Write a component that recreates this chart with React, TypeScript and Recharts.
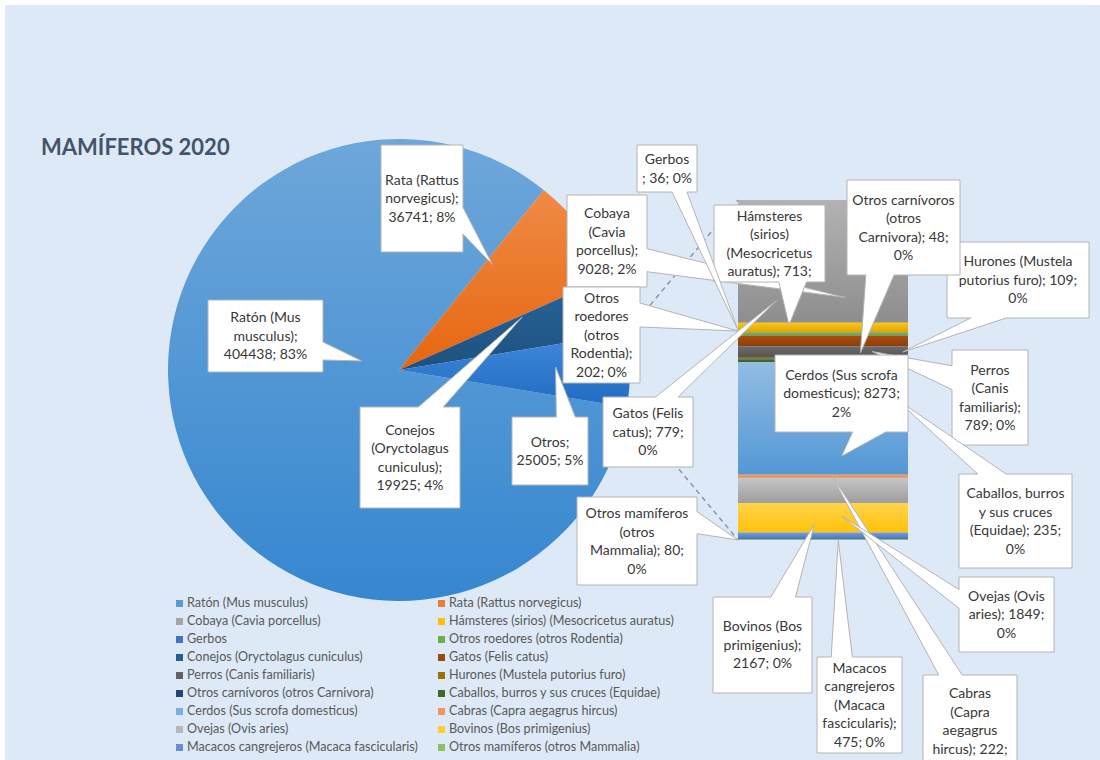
import React from 'react';
import { PieChart, Pie, Cell, BarChart, Bar, XAxis, YAxis, Legend, LabelList } from 'recharts';

// ---- data ----
const title = 'MAMÍFEROS 2020';

const categories = [
  'Ratón (Mus musculus)',
  'Rata (Rattus norvegicus)',
  'Cobaya (Cavia porcellus)',
  'Hámsteres (sirios) (Mesocricetus auratus)',
  'Gerbos ',
  'Otros roedores (otros Rodentia)',
  'Conejos (Oryctolagus cuniculus)',
  'Gatos (Felis catus)',
  'Perros (Canis familiaris)',
  'Hurones (Mustela putorius furo)',
  'Otros carnívoros (otros Carnivora)',
  'Caballos, burros y sus cruces (Equidae)',
  'Cerdos (Sus scrofa domesticus)',
  'Cabras (Capra aegagrus hircus)',
  'Ovejas (Ovis aries)',
  'Bovinos (Bos primigenius)',
  'Macacos cangrejeros (Macaca fascicularis)',
  'Otros mamíferos (otros Mammalia)',
];

const counts = [404438, 36741, 9028, 713, 36, 202, 19925, 779, 789, 109, 48, 235, 8273, 222, 1849, 2167, 475, 80];

const palette = [
  '#5B9BD5', '#ED7D31', '#A5A5A5', '#FFC000', '#4472C4', '#70AD47',
  '#255E91', '#9E480E', '#636363', '#997300', '#264478', '#43682B',
  '#7CAFDD', '#F1975A', '#B7B7B7', '#FFCD33', '#698ED0', '#8CC168',
];

const otherName = 'Otros';
const otherColor = '#2F7ED8';
const splitBelow = 10000; // series below this value go into the bar

// ---- layout ----
const W = 1100;
const H = 760;
const FONT = 'Lato, "Open Sans", sans-serif';
const PIE = { cx: 399, cy: 370, r: 231 };
const BAR = { left: 738, top: 200, width: 170, height: 340 };
const LINE_H = 18.5;
const TEXT_SIZE = 14;

// callout boxes for the pie: tip given as angle offset from the slice middle and radius fraction
const pieCallouts: Record<string, { x: number; y: number; w: number; h: number; da: number; rf: number; words: number[] }> = {
  'Ratón (Mus musculus)': { x: 208, y: 300, w: 115, h: 72, da: -34.7, rf: 0.166, words: [2, 1, 2] },
  'Rata (Rattus norvegicus)': { x: 381, y: 145, w: 82, h: 107, da: 10.9, rf: 0.61, words: [2, 1, 2] },
  'Conejos (Oryctolagus cuniculus)': { x: 360, y: 407, w: 100, h: 101, da: 6.6, rf: 0.58, words: [1, 1, 1, 2] },
  Otros: { x: 512, y: 417, w: 76, h: 68, da: 1.1, rf: 0.678, words: [1, 2] },
};

// callout boxes for the bar: tip given as fraction across the segment and offset from its middle
const barCallouts: Record<string, { x: number; y: number; w: number; h: number; fx: number; dy: number; words: number[] }> = {
  'Cobaya (Cavia porcellus)': { x: 567, y: 195, w: 80, h: 92, fx: 0.63, dy: 36, words: [1, 1, 1, 2] },
  'Hámsteres (sirios) (Mesocricetus auratus)': { x: 714, y: 205, w: 111, h: 77, fx: 0.3, dy: -2.6, words: [1, 1, 1, 2] },
  'Gerbos ': { x: 637, y: 145, w: 60, h: 47, fx: 0, dy: -2.7, words: [1, 3] },
  'Otros roedores (otros Rodentia)': { x: 563, y: 287, w: 77, h: 96, fx: 0, dy: -3.3, words: [1, 1, 1, 1, 2] },
  'Gatos (Felis catus)': { x: 603, y: 397, w: 90, h: 70, fx: 0.23, dy: -41, words: [2, 2, 1] },
  'Perros (Canis familiaris)': { x: 952, y: 350, w: 76, h: 95, fx: 0.79, dy: 0, words: [1, 1, 1, 2] },
  'Hurones (Mustela putorius furo)': { x: 947, y: 242, w: 142, h: 76, fx: 0.97, dy: -5.7, words: [2, 3, 1] },
  'Otros carnívoros (otros Carnivora)': { x: 847, y: 180, w: 113, h: 95, fx: 0.72, dy: -5.8, words: [2, 1, 2, 1] },
  'Caballos, burros y sus cruces (Equidae)': { x: 959, y: 474, w: 113, h: 94, fx: 0.92, dy: 37, words: [2, 3, 2, 1] },
  'Cerdos (Sus scrofa domesticus)': { x: 775, y: 355, w: 133, h: 77, fx: 0.61, dy: 37.5, words: [3, 2, 1] },
  'Cabras (Capra aegagrus hircus)': { x: 923, y: 675, w: 94, h: 92, fx: 0.55, dy: -1.3, words: [1, 1, 1, 2] },
  'Ovejas (Ovis aries)': { x: 959, y: 577, w: 95, h: 75, fx: 0.61, dy: 25.6, words: [2, 2, 1] },
  'Bovinos (Bos primigenius)': { x: 713, y: 597, w: 99, h: 96, fx: 0.45, dy: 6.3, words: [2, 1, 2] },
  'Macacos cangrejeros (Macaca fascicularis)': { x: 817, y: 657, w: 85, h: 96, fx: 0.59, dy: 5, words: [1, 1, 1, 1, 2] },
  'Otros mamíferos (otros Mammalia)': { x: 577, y: 497, w: 120, h: 88, fx: 0, dy: 0.5, words: [2, 1, 2, 1] },
};

// ---- derived rows ----
const total = counts.reduce((s, v) => s + v, 0);
const pct = (v: number) => `${Math.round((v / total) * 100)}%`;

const allRows = categories.map((name, i) => ({ name, value: counts[i], color: palette[i] }));
const barRows = allRows.filter((r) => r.value < splitBelow);
const otherTotal = barRows.reduce((s, r) => s + r.value, 0);
const pieRows = [...allRows.filter((r) => r.value >= splitBelow), { name: otherName, value: otherTotal, color: otherColor }];

const barRecord: Record<string, string | number> = { name: otherName };
barRows.forEach((r, i) => {
  barRecord[`s${i}`] = r.value;
});

// the "Otros" slice is centred on 3 o'clock, the rest runs clockwise from there
const otherHalf = (otherTotal / total) * 180;

// ---- helpers ----
// scale lightness / saturation of a hex colour (Excel-like gradient stops)
const shade = (hex: string, lf: number, sf = 1) => {
  const n = parseInt(hex.slice(1), 16);
  const r = ((n >> 16) & 255) / 255;
  const g = ((n >> 8) & 255) / 255;
  const b = (n & 255) / 255;
  const max = Math.max(r, g, b);
  const min = Math.min(r, g, b);
  const l = (max + min) / 2;
  const d = max - min;
  let h = 0;
  let s = 0;
  if (d > 0) {
    s = d / (1 - Math.abs(2 * l - 1));
    if (max === r) h = ((g - b) / d) % 6;
    else if (max === g) h = (b - r) / d + 2;
    else h = (r - g) / d + 4;
    h *= 60;
    if (h < 0) h += 360;
  }
  return `hsl(${h.toFixed(1)}, ${Math.min(100, s * sf * 100).toFixed(1)}%, ${Math.min(100, l * lf * 100).toFixed(1)}%)`;
};

const Grad = ({ id, color }: { id: string; color: string }) => (
  <linearGradient id={id} x1="0" y1="0" x2="0" y2="1">
    <stop offset="0" stopColor={shade(color, 1.08)} />
    <stop offset="1" stopColor={shade(color, 0.86, 1.05)} />
  </linearGradient>
);

const wrapWords = (s: string, perLine: number[]) => {
  const words = s.split(' ').filter(Boolean);
  const out: string[] = [];
  let k = 0;
  perLine.forEach((n) => {
    out.push(words.slice(k, k + n).join(' '));
    k += n;
  });
  return out;
};

// rectangle with a wedge pointing at (tx, ty), like Excel's data callout
const calloutPath = (x: number, y: number, w: number, h: number, tx: number, ty: number) => {
  const dx = tx - (x + w / 2);
  const dy = ty - (y + h / 2);
  const horiz = Math.abs(dx) * h > Math.abs(dy) * w;
  let pts: number[][];
  if (!horiz && dy < 0) {
    const a = dx < 0 ? x + (w * 2) / 12 : x + (w * 7) / 12;
    const b = dx < 0 ? x + (w * 5) / 12 : x + (w * 10) / 12;
    pts = [[x, y], [a, y], [tx, ty], [b, y], [x + w, y], [x + w, y + h], [x, y + h]];
  } else if (horiz && dx > 0) {
    const a = dy < 0 ? y + (h * 2) / 12 : y + (h * 7) / 12;
    const b = dy < 0 ? y + (h * 5) / 12 : y + (h * 10) / 12;
    pts = [[x, y], [x + w, y], [x + w, a], [tx, ty], [x + w, b], [x + w, y + h], [x, y + h]];
  } else if (!horiz && dy > 0) {
    const a = dx > 0 ? x + (w * 10) / 12 : x + (w * 5) / 12;
    const b = dx > 0 ? x + (w * 7) / 12 : x + (w * 2) / 12;
    pts = [[x, y], [x + w, y], [x + w, y + h], [a, y + h], [tx, ty], [b, y + h], [x, y + h]];
  } else {
    const a = dy > 0 ? y + (h * 10) / 12 : y + (h * 5) / 12;
    const b = dy > 0 ? y + (h * 7) / 12 : y + (h * 2) / 12;
    pts = [[x, y], [x + w, y], [x + w, y + h], [x, y + h], [x, a], [tx, ty], [x, b]];
  }
  return 'M' + pts.map((p) => `${p[0].toFixed(1)},${p[1].toFixed(1)}`).join('L') + 'Z';
};

interface CalloutProps {
  box: { x: number; y: number; w: number; h: number };
  tip: { x: number; y: number };
  lines: string[];
}

const Callout = ({ box, tip, lines }: CalloutProps) => {
  const midX = box.x + box.w / 2;
  const firstY = box.y + box.h / 2 - ((lines.length - 1) * LINE_H) / 2 + TEXT_SIZE * 0.35;
  return (
    <g>
      <path d={calloutPath(box.x, box.y, box.w, box.h, tip.x, tip.y)} fill="#ffffff" stroke="#b4b4b4" strokeWidth={1} />
      <text textAnchor="middle" fontFamily={FONT} fontSize={TEXT_SIZE} fill="#383838">
        {lines.map((ln, i) => (
          <tspan key={i} x={midX} y={firstY + i * LINE_H}>
            {ln}
          </tspan>
        ))}
      </text>
    </g>
  );
};

const RAD = Math.PI / 180;

const renderPieLabel = (p: any) => {
  const row = pieRows[p.index];
  const spec = pieCallouts[row.name];
  if (!spec) return null;
  const a = (p.midAngle + spec.da) * RAD;
  const rr = p.outerRadius * spec.rf;
  const tip = { x: p.cx + rr * Math.cos(a), y: p.cy - rr * Math.sin(a) };
  const lines = wrapWords(`${row.name}; ${row.value}; ${pct(row.value)}`, spec.words);

  let links = null;
  if (row.name === otherName) {
    // dashed connectors from the "Otros" slice to the bar corners
    const hi = Math.max(p.startAngle, p.endAngle) * RAD;
    const lo = Math.min(p.startAngle, p.endAngle) * RAD;
    links = (
      <g stroke="#7f93b0" strokeWidth={1.4} strokeDasharray="5 4">
        <line x1={p.cx + p.outerRadius * Math.cos(hi)} y1={p.cy - p.outerRadius * Math.sin(hi)} x2={BAR.left} y2={BAR.top} />
        <line x1={p.cx + p.outerRadius * Math.cos(lo)} y1={p.cy - p.outerRadius * Math.sin(lo)} x2={BAR.left} y2={BAR.top + BAR.height} />
      </g>
    );
  }
  return (
    <g key={`pl-${p.index}`}>
      {links}
      <Callout box={spec} tip={tip} lines={lines} />
    </g>
  );
};

const makeBarLabel = (row: { name: string; value: number }) => (props: any) => {
  const vb = props.viewBox || props;
  const spec = barCallouts[row.name];
  if (!spec || vb == null) return null;
  const top = Math.min(vb.y, vb.y + vb.height);
  const h = Math.abs(vb.height);
  const tip = { x: vb.x + vb.width * spec.fx, y: top + h / 2 + spec.dy };
  const lines = wrapWords(`${row.name}; ${row.value}; ${pct(row.value)}`, spec.words);
  return <Callout box={spec} tip={tip} lines={lines} />;
};

const renderLegend = () => (
  <div
    style={{
      display: 'grid',
      gridTemplateColumns: '262px 300px',
      fontFamily: FONT,
      fontSize: 12.6,
      lineHeight: '18px',
      color: '#595959',
    }}
  >
    {allRows.map((r) => (
      <div key={r.name} style={{ display: 'flex', alignItems: 'center', whiteSpace: 'nowrap' }}>
        <span style={{ width: 7, height: 7, background: r.color, marginLeft: 6, marginRight: 4, flex: 'none' }} />
        {r.name}
      </div>
    ))}
  </div>
);

export default function App() {
  return (
    <div style={{ position: 'fixed', left: 0, top: 0, width: W, height: H, background: '#ffffff', overflow: 'hidden' }}>
      <div style={{ position: 'absolute', left: 5, top: 5, width: W - 5, height: H - 5, background: '#dde9f6' }} />

      <div style={{ position: 'absolute', left: 0, top: 0 }}>
        <PieChart width={W} height={H} margin={{ top: 0, right: 0, bottom: 0, left: 0 }}>
          <defs>
            {pieRows.map((r, i) => (
              <Grad key={i} id={`pg${i}`} color={r.color} />
            ))}
          </defs>
          <Pie
            data={pieRows}
            dataKey="value"
            nameKey="name"
            cx={PIE.cx}
            cy={PIE.cy}
            outerRadius={PIE.r}
            startAngle={360 - otherHalf}
            endAngle={-otherHalf}
            stroke="none"
            label={renderPieLabel}
            labelLine={false}
            isAnimationActive={false}
          >
            {pieRows.map((r, i) => (
              <Cell key={r.name} fill={`url(#pg${i})`} />
            ))}
          </Pie>
          <Legend content={renderLegend} wrapperStyle={{ left: 170, top: 594, bottom: 'auto', width: 580 }} />
        </PieChart>
      </div>

      <div style={{ position: 'absolute', left: 0, top: 0 }}>
        <BarChart
          width={W}
          height={H}
          data={[barRecord]}
          margin={{ top: BAR.top, right: W - BAR.left - BAR.width, bottom: H - BAR.top - BAR.height, left: BAR.left }}
          barCategoryGap={0}
          barGap={0}
        >
          <defs>
            {barRows.map((r, i) => (
              <Grad key={i} id={`bg${i}`} color={r.color} />
            ))}
          </defs>
          <XAxis dataKey="name" hide />
          <XAxis xAxisId="lbl" dataKey="name" hide />
          <YAxis type="number" hide reversed domain={[0, otherTotal]} allowDataOverflow />
          {barRows.map((r, i) => (
            <Bar key={`b${i}`} dataKey={`s${i}`} stackId="bar" fill={`url(#bg${i})`} isAnimationActive={false} />
          ))}
          {barRows.map((r, i) => (
            <Bar
              key={`l${i}`}
              xAxisId="lbl"
              dataKey={`s${i}`}
              stackId="lbl"
              fill="#000"
              fillOpacity={0}
              isAnimationActive={false}
            >
              <LabelList dataKey={`s${i}`} content={makeBarLabel(r)} />
            </Bar>
          ))}
        </BarChart>
      </div>

      <svg style={{ position: 'absolute', left: 0, top: 0 }} width={300} height={180}>
        <text x={41} y={155} fontFamily={FONT} fontWeight={700} fontSize={22} fill="#44546a">
          {title}
        </text>
      </svg>
    </div>
  );
}
